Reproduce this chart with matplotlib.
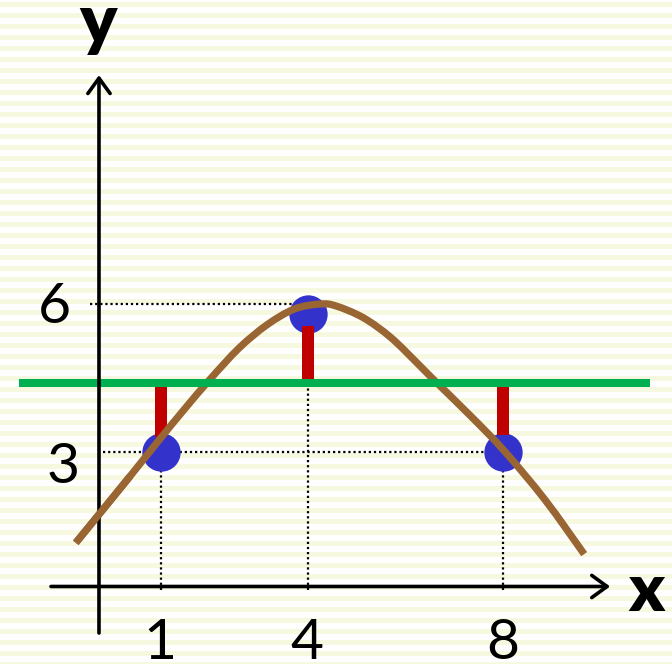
import numpy as np
import matplotlib
matplotlib.use("Agg")
import matplotlib.pyplot as plt
from matplotlib.path import Path
from matplotlib.patches import PathPatch

# ---------------- data ----------------
pts_x = [1, 4, 8]
pts_y = [3.0, 5.8, 3.0]
mean_level = 4.4
bar_tips = [3.31, 5.55, 3.35]          # ends of the red residual bars
xtick_vals = [1, 4, 8]
xtick_labels = ["1", "4", "8"]
ytick_vals = [3, 6]
ytick_labels = ["3", "6"]
curve_x = [-0.74, -0.27, 0.37, 0.96, 1.49, 2.00, 2.60, 3.17, 3.73, 4.25,
           4.58, 5.14, 5.70, 6.27, 6.58, 7.32, 8.01, 8.85, 9.65]
curve_y = [1.16, 1.73, 2.51, 3.24, 3.88, 4.47, 5.11, 5.58, 5.90, 6.00,
           5.96, 5.72, 5.32, 4.77, 4.46, 3.74, 3.03, 2.03, 0.93]

# ---------------- styling ----------------
BLUE = "#3333CC"
RED = "#C00000"
GREEN = "#00B050"
BROWN = "#996633"
STRIPE = "#F6F8E0"

W, H = 672, 664
fig = plt.figure(figsize=(W / 100, H / 100), dpi=100)

# striped background
bg = fig.add_axes([0, 0, 1, 1], zorder=-1)
bg.set_xlim(0, W)
bg.set_ylim(H, 0)
bg.axis("off")
for k in range(0, H // 11 + 1):
    bg.axhspan(2 + 11 * k, 7 + 11 * k, color=STRIPE, lw=0)

ax = fig.add_axes([0, 0, 1, 1])
ax.patch.set_alpha(0)
ax.set_xlim(-112 / 48.93, (W - 112) / 48.93)
ax.set_ylim((600 - H) / 49.33, 600 / 49.33)
ax.axis("off")

yaxis_x = -0.266
xaxis_y = 0.274
dot_style = dict(color="black", lw=1.6, ls=(0, (1, 1.3)), zorder=1)

# dotted guide lines
ax.plot([-0.45, pts_x[1]], [6, 6], **dot_style)
ax.plot([-0.18, pts_x[2]], [3, 3], **dot_style)
for xv, yv in zip(pts_x, pts_y):
    ax.plot([xv, xv], [0.2, yv], **dot_style)

# points
ax.plot(pts_x, pts_y, "o", ms=27.6, color=BLUE, mec="none", zorder=2)

# residual bars
ax.bar(pts_x, np.subtract(bar_tips, mean_level), bottom=mean_level,
       width=0.245, color=RED, lw=0, zorder=3)


# smooth curve through the read points (Catmull-Rom drawn as Bezier path)
def smooth_path(xs, ys):
    P = np.column_stack([xs, ys]).astype(float)
    n = len(P)
    verts = [P[0]]
    codes = [Path.MOVETO]
    for i in range(n - 1):
        p0 = P[i - 1] if i > 0 else P[i]
        p1, p2 = P[i], P[i + 1]
        p3 = P[i + 2] if i + 2 < n else P[i + 1]
        c1 = p1 + (p2 - p0) / 6.0
        c2 = p2 - (p3 - p1) / 6.0
        verts += [c1, c2, p2]
        codes += [Path.CURVE4] * 3
    return Path(verts, codes)


curve_style = dict(fill=False, edgecolor=BROWN, lw=5.2, capstyle="butt",
                   joinstyle="round")
ax.add_patch(PathPatch(smooth_path(curve_x, curve_y), zorder=4, **curve_style))
ax.add_patch(PathPatch(smooth_path(curve_x[:3], curve_y[:3]), zorder=8,
                       **curve_style))

# mean line
ax.plot([-1.90, 11.0], [mean_level, mean_level], color=GREEN, lw=5.8,
        solid_capstyle="butt", zorder=5)

# axes with arrows
arrow = dict(arrowstyle="->,head_length=0.55,head_width=0.4", lw=2.6,
             color="black", mutation_scale=20, shrinkA=0, shrinkB=0)
ax.annotate("", xy=(10.18, xaxis_y), xytext=(-1.247, xaxis_y),
            arrowprops=arrow, zorder=6)
ax.annotate("", xy=(yaxis_x, 10.64), xytext=(yaxis_x, -0.67),
            arrowprops=arrow, zorder=6)

# tick labels
tick_font = dict(family="Lato", fontsize=41, color="black")
for xv, lab in zip(xtick_vals, xtick_labels):
    ax.text(xv - 0.02, -1.19, lab, ha="center", va="baseline", **tick_font)
ax.text(-1.17, 5.615, ytick_labels[1], ha="center", va="baseline", **tick_font)
ax.text(-1.0, 2.372, ytick_labels[0], ha="center", va="baseline", **tick_font)

# axis names
ax.text(10.93, -0.223, "x", ha="center", va="baseline", family="Lato",
        fontweight="heavy", fontsize=48)
ax.text(yaxis_x - 0.02, 11.29, "y", ha="center", va="baseline", family="Lato",
        fontweight="heavy", fontsize=50)

fig.savefig("out.png", dpi=100)
